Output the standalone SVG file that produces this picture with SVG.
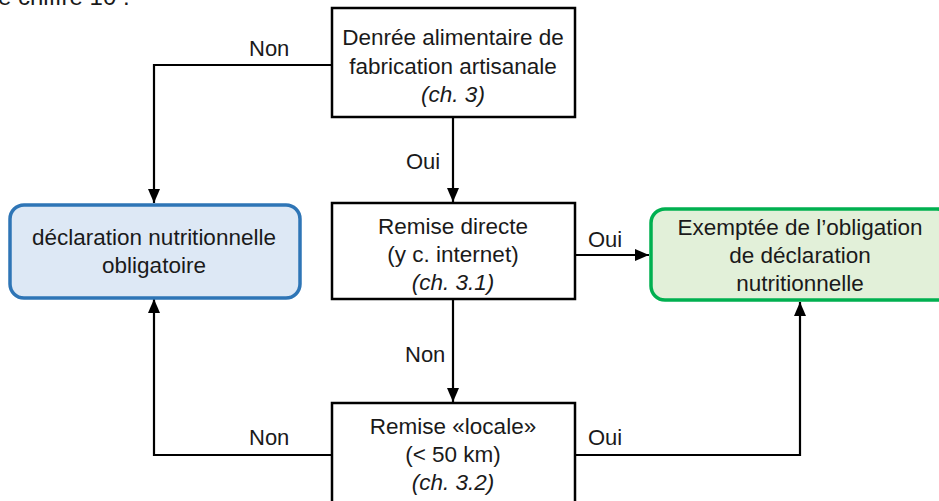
<svg xmlns="http://www.w3.org/2000/svg" width="939" height="501" viewBox="0 0 939 501">
<style>
text{font-family:"Liberation Sans",Arial,sans-serif;fill:#1a1a1a}
.t{font-size:22.5px;text-anchor:middle}
.i{font-style:italic}
.lbl{font-size:22px}
.box{fill:#fff;stroke:#000;stroke-width:2.5}
.blue{fill:#dde8f5;stroke:#2e75b6;stroke-width:3.5}
.green{fill:#e2f0d9;stroke:#00b050;stroke-width:3.5}
.c{fill:none;stroke:#000;stroke-width:2.2}
</style>
<defs>
<marker id="ah" markerUnits="userSpaceOnUse" markerWidth="16" markerHeight="16" viewBox="0 0 16 16" refX="14" refY="8" orient="auto">
<path d="M0,2 L14,8 L0,14 Z" fill="#000"/>
</marker>
</defs>
<rect width="939" height="501" fill="#fff"/>
<text x="-2" y="5" style="font-size:24px">e chiffre 10 :</text>
<g id="connectors">
<path class="c" d="M332,65 H154 V203" marker-end="url(#ah)"/>
<path class="c" d="M453,117 V202" marker-end="url(#ah)"/>
<path class="c" d="M575,255 H649" marker-end="url(#ah)"/>
<path class="c" d="M453,299 V402" marker-end="url(#ah)"/>
<path class="c" d="M332,455 H154 V299" marker-end="url(#ah)"/>
<path class="c" d="M575,455 H800 V302" marker-end="url(#ah)"/>
<text class="lbl" x="249" y="56">Non</text>
<text class="lbl" x="406" y="169">Oui</text>
<text class="lbl" x="588" y="247">Oui</text>
<text class="lbl" x="405" y="362">Non</text>
<text class="lbl" x="249" y="445">Non</text>
<text class="lbl" x="588" y="445">Oui</text>
</g>
<g id="n1">
<rect class="box" x="332" y="8" width="243" height="109"/>
<text class="t" x="453" y="45">Denrée alimentaire de</text>
<text class="t" x="453" y="74">fabrication artisanale</text>
<text class="t i" x="453" y="102">(ch. 3)</text>
</g>
<g id="n2">
<rect class="box" x="332" y="203" width="243" height="96"/>
<text class="t" x="453" y="234">Remise directe</text>
<text class="t" x="453" y="262">(y c. internet)</text>
<text class="t i" x="453" y="290">(ch. 3.1)</text>
</g>
<g id="n3">
<rect class="box" x="332" y="403" width="243" height="110"/>
<text class="t" x="453" y="434">Remise «locale»</text>
<text class="t" x="453" y="462">(&lt; 50 km)</text>
<text class="t i" x="453" y="490">(ch. 3.2)</text>
</g>
<g id="n4">
<rect class="blue" x="10" y="205" width="290" height="93" rx="14"/>
<text class="t" x="154" y="245">déclaration nutritionnelle</text>
<text class="t" x="154" y="273">obligatoire</text>
</g>
<g id="n5">
<rect class="green" x="651" y="209" width="300" height="91" rx="14"/>
<text class="t" x="800" y="235">Exemptée de l’obligation</text>
<text class="t" x="800" y="263">de déclaration</text>
<text class="t" x="800" y="291">nutritionnelle</text>
</g>
</svg>
